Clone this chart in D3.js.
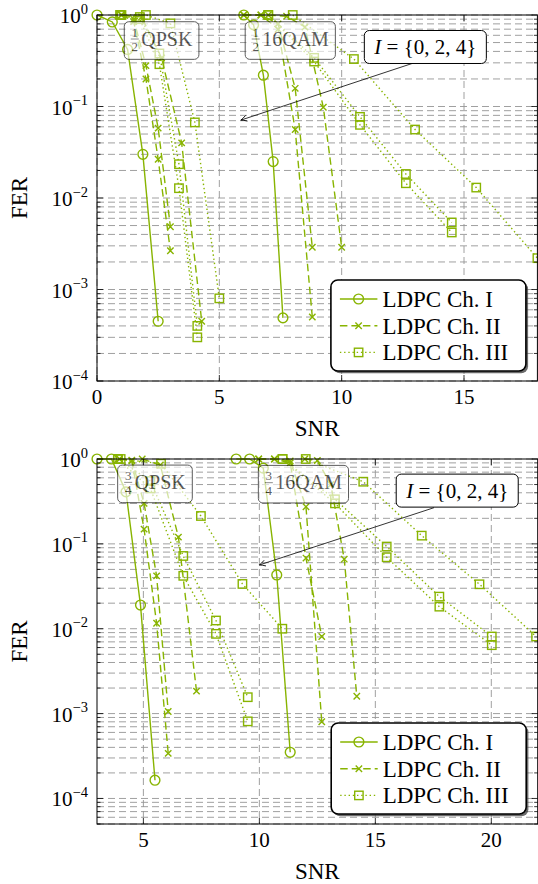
<!DOCTYPE html>
<html>
<head>
<meta charset="utf-8">
<script src="https://cdn.jsdelivr.net/npm/d3@7"></script>
<style>
  body { margin: 0; background: #fff; }
  svg { display: block; font-family: "Liberation Serif", "Times New Roman", serif; }
</style>
</head>
<body>
<script>
// ---- Frame error rate curves, code rate 1/2 (upper panel) ----
// each curve: [SNR, FER] pairs
const halfQpskCh1  = [[0, 1], [0.625, 0.84], [1.25, 0.42], [1.875, 0.03], [2.5, 4.5e-4]];
const halfQpskCh2a = [[1.0, 1], [1.5, 0.9], [2.0, 0.28], [2.5, 0.058], [3.0, 4.85e-3]];
const halfQpskCh2b = [[1.0, 1], [1.5, 0.85], [2.0, 0.2], [2.5, 0.0265], [3.0, 2.65e-3]];
const halfQpskCh2c = [[1.0, 1], [1.82, 0.95], [2.64, 0.34], [3.46, 0.04], [4.28, 4.5e-4]];
const halfQpskCh3a = [[0.95, 1], [1.75, 0.95], [2.55, 0.38], [3.35, 0.0234], [4.1, 4.0e-4]];
const halfQpskCh3b = [[0.95, 1], [1.75, 0.9], [2.55, 0.29], [3.35, 0.0128], [4.1, 3.0e-4]];
const halfQpskCh3c = [[1.0, 1], [2.0, 1], [3.0, 0.81], [4.0, 0.067], [5.0, 8.0e-4]];

const halfQamCh1  = [[6.0, 1], [6.4, 0.78], [6.8, 0.22], [7.2, 0.025], [7.6, 4.9e-4]];
const halfQamCh2a = [[6.0, 1], [6.7, 1], [7.4, 0.8], [8.1, 0.158], [8.8, 2.9e-3]];
const halfQamCh2b = [[6.0, 1], [6.7, 1], [7.4, 0.7], [8.1, 0.056], [8.8, 5.0e-4]];
const halfQamCh2c = [[7.0, 1], [7.75, 0.97], [8.5, 0.74], [9.25, 0.098], [10.0, 2.9e-3]];
const halfQamCh3a = [[7.0, 1], [8.875, 0.34], [10.75, 0.077], [12.625, 0.0183], [14.5, 5.4e-3]];
const halfQamCh3b = [[7.0, 1], [8.875, 0.31], [10.75, 0.063], [12.625, 0.0145], [14.5, 4.2e-3]];
const halfQamCh3c = [[8.0, 1], [10.5, 0.33], [13.0, 0.056], [15.5, 0.013], [18.0, 2.2e-3]];

// ---- Frame error rate curves, code rate 3/4 (lower panel) ----
const tqQpskCh1  = [[3.0, 1], [3.625, 1], [4.25, 0.41], [4.875, 0.019], [5.5, 1.64e-4]];
const tqQpskCh2a = [[3.97, 1], [4.5, 0.97], [5.03, 0.30], [5.57, 0.042], [6.07, 1.06e-3]];
const tqQpskCh2b = [[3.97, 1], [4.5, 0.95], [5.03, 0.149], [5.57, 0.0116], [6.07, 3.4e-4]];
const tqQpskCh2c = [[4.95, 1], [5.73, 0.85], [6.51, 0.12], [7.29, 1.84e-3]];
const tqQpskCh3a = [[3.9, 1], [5.3, 0.55], [6.72, 0.072], [8.13, 0.0125], [9.5, 1.56e-3]];
const tqQpskCh3b = [[3.9, 1], [5.3, 0.45], [6.72, 0.042], [8.13, 0.0087], [9.5, 8.1e-4]];
const tqQpskCh3c = [[4.02, 1], [5.76, 0.88], [7.48, 0.213], [9.27, 0.0337], [10.99, 0.01]];

const tqQamCh1  = [[9.0, 1], [9.58, 1], [10.17, 0.78], [10.75, 0.043], [11.33, 3.5e-4]];
const tqQamCh2a = [[9.97, 1], [10.65, 1], [11.33, 0.95], [12.01, 0.274], [12.69, 8.0e-4]];
const tqQamCh2b = [[9.97, 1], [10.65, 1], [11.33, 0.9], [12.01, 0.068], [12.69, 8.1e-3]];
const tqQamCh2c = [[11.96, 1], [12.5, 0.96], [13.08, 0.5], [13.66, 0.066], [14.2, 1.6e-3]];
const tqQamCh3a = [[11.0, 1], [13.26, 0.335], [15.49, 0.093], [17.76, 0.0239], [20.02, 8.1e-3]];
const tqQamCh3b = [[11.0, 1], [13.26, 0.3], [15.49, 0.0695], [17.76, 0.0182], [20.02, 6.4e-3]];
const tqQamCh3c = [[12.0, 1], [14.48, 0.54], [17.0, 0.125], [19.49, 0.0334], [21.93, 8.1e-3]];

// ---- axes, labels, legend ----
const xTicksTop = [0, 5, 10, 15];
const xTicksBottom = [5, 10, 15, 20];
const yExponents = [0, -1, -2, -3, -4];
const legendLabels = ["LDPC Ch. I", "LDPC Ch. II", "LDPC Ch. III"];
const rateLabelsTop = [["1", "2", "QPSK"], ["1", "2", "16QAM"]];
const rateLabelsBottom = [["3", "4", "QPSK"], ["3", "4", "16QAM"]];
const indexSetText = ["I", " = {0, 2, 4}"];

// channel index: 0 = Ch. I, 1 = Ch. II, 2 = Ch. III
const curvesTop = [
  [halfQpskCh1, 0], [halfQpskCh2a, 1], [halfQpskCh2b, 1], [halfQpskCh2c, 1],
  [halfQpskCh3a, 2], [halfQpskCh3b, 2], [halfQpskCh3c, 2],
  [halfQamCh1, 0], [halfQamCh2a, 1], [halfQamCh2b, 1], [halfQamCh2c, 1],
  [halfQamCh3a, 2], [halfQamCh3b, 2], [halfQamCh3c, 2]
];
const curvesBottom = [
  [tqQpskCh1, 0], [tqQpskCh2a, 1], [tqQpskCh2b, 1], [tqQpskCh2c, 1],
  [tqQpskCh3a, 2], [tqQpskCh3b, 2], [tqQpskCh3c, 2],
  [tqQamCh1, 0], [tqQamCh2a, 1], [tqQamCh2b, 1], [tqQamCh2c, 1],
  [tqQamCh3a, 2], [tqQamCh3b, 2], [tqQamCh3c, 2]
];

const GREEN = "#88b400";
const DASH = [null, "7.5,4", "1.4,2.8"];
const MARK = ["circle", "cross", "square"];

const svg = d3.select("body").append("svg").attr("width", 538).attr("height", 884);

svg.append("defs").append("marker")
  .attr("id", "arrowhead")
  .attr("viewBox", "-8 -5 10 10")
  .attr("refX", 0).attr("refY", 0)
  .attr("markerWidth", 10).attr("markerHeight", 10)
  .attr("markerUnits", "userSpaceOnUse")
  .attr("orient", "auto")
  .append("path")
  .attr("d", "M-6,-3 Q-2.5,-0.8 0,0 Q-2.5,0.8 -6,3")
  .attr("fill", "none").attr("stroke", "#000").attr("stroke-width", 0.8);

function drawMarker(g, type, cx, cy, color) {
  if (type === "circle") {
    g.append("circle").attr("cx", cx).attr("cy", cy).attr("r", 4.9)
      .attr("fill", "none").attr("stroke", color).attr("stroke-width", 1.4);
  } else if (type === "square") {
    g.append("rect").attr("x", cx - 4.2).attr("y", cy - 4.2).attr("width", 8.4).attr("height", 8.4)
      .attr("fill", "none").attr("stroke", color).attr("stroke-width", 1.4);
  } else {
    g.append("path").attr("d", `M${cx - 3.2},${cy - 3.2}L${cx + 3.2},${cy + 3.2}M${cx - 3.2},${cy + 3.2}L${cx + 3.2},${cy - 3.2}`)
      .attr("stroke", color).attr("stroke-width", 1.4).attr("fill", "none");
  }
}

function drawPanel(cfg) {
  const x = d3.scaleLinear().domain(cfg.xDomain).range([cfg.left, cfg.right]);
  const y = d3.scaleLog().domain(cfg.yDomain).range([cfg.bottom, cfg.top]);
  const g = svg.append("g");

  const allY = y.ticks().filter(v => v >= cfg.yDomain[0] * 0.999 && v <= cfg.yDomain[1] * 1.001);
  const isMajor = v => Math.abs(Math.log10(v) - Math.round(Math.log10(v))) < 1e-6;

  // dashed grid
  const grid = g.append("g").attr("stroke", "#959595").attr("stroke-width", 0.9)
    .attr("stroke-dasharray", "7,4").attr("fill", "none");
  allY.forEach(v => {
    grid.append("line").attr("x1", cfg.left).attr("x2", cfg.right)
      .attr("y1", y(v)).attr("y2", y(v));
  });
  cfg.xTicks.forEach(v => {
    grid.append("line").attr("x1", x(v)).attr("x2", x(v))
      .attr("y1", cfg.top).attr("y2", cfg.bottom);
  });

  // curves
  const line = d3.line().x(d => x(d[0])).y(d => y(d[1]));
  cfg.curves.forEach(([pts, ch]) => {
    g.append("path").datum(pts).attr("d", line)
      .attr("fill", "none").attr("stroke", GREEN).attr("stroke-width", 1.4)
      .attr("stroke-dasharray", DASH[ch]);
    const mg = g.append("g");
    pts.forEach(p => drawMarker(mg, MARK[ch], x(p[0]), y(p[1]), GREEN));
  });

  // frame and inward ticks
  g.append("rect").attr("x", cfg.left).attr("y", cfg.top)
    .attr("width", cfg.right - cfg.left).attr("height", cfg.bottom - cfg.top)
    .attr("fill", "none").attr("stroke", "#000").attr("stroke-width", 1);
  const ticks = g.append("g").attr("stroke", "#000").attr("stroke-width", 0.8);
  allY.forEach(v => {
    const len = isMajor(v) ? 6 : 3.5;
    ticks.append("line").attr("x1", cfg.left).attr("x2", cfg.left + len).attr("y1", y(v)).attr("y2", y(v));
    ticks.append("line").attr("x1", cfg.right).attr("x2", cfg.right - len).attr("y1", y(v)).attr("y2", y(v));
  });
  cfg.xTicks.forEach(v => {
    ticks.append("line").attr("x1", x(v)).attr("x2", x(v)).attr("y1", cfg.bottom).attr("y2", cfg.bottom - 6);
    ticks.append("line").attr("x1", x(v)).attr("x2", x(v)).attr("y1", cfg.top).attr("y2", cfg.top + 6);
  });

  // x tick labels
  cfg.xTicks.forEach(v => {
    g.append("text").attr("x", x(v)).attr("y", cfg.bottom + 23)
      .attr("text-anchor", "middle").attr("font-size", 21).text(v);
  });
  // y tick labels 10^k
  yExponents.forEach(k => {
    const t = g.append("text").attr("x", cfg.left - 9).attr("y", y(Math.pow(10, k)) + 8)
      .attr("text-anchor", "end").attr("font-size", 21);
    t.append("tspan").text("10");
    t.append("tspan").attr("font-size", 14.5).attr("dy", -9.5)
      .text(k === 0 ? "0" : "\u2212" + Math.abs(k));
  });

  // axis titles
  g.append("text").attr("x", (cfg.left + cfg.right) / 2).attr("y", cfg.bottom + 55)
    .attr("text-anchor", "middle").attr("font-size", 23).text("SNR");
  g.append("text").attr("transform", `translate(27,${(cfg.top + cfg.bottom) / 2}) rotate(-90)`)
    .attr("text-anchor", "middle").attr("font-size", 23).text("FER");

  // modulation labels (translucent boxes)
  cfg.rateLabels.forEach((lab, i) => {
    const [cxv, cyv] = cfg.rateLabelPos[i];
    const cx = x(cxv), cy = y(cyv);
    const lg = g.append("g").attr("opacity", 0.64);
    const rect = lg.append("rect").attr("fill", "#fff").attr("stroke", "#000").attr("stroke-width", 1)
      .attr("rx", 4.5).attr("ry", 4.5);
    const txt = lg.append("text").attr("font-size", 20).attr("y", cy + 5.2).text(lab[2]);
    const tw = txt.node().getComputedTextLength();
    const fracW = 8, gap = 2.5, pad = 6.5;
    const w = pad + fracW + gap + tw + pad, h = 37.6;
    const x0 = cx - w / 2;
    rect.attr("x", x0).attr("y", cy - h / 2).attr("width", w).attr("height", h);
    const fx = x0 + pad + fracW / 2;
    lg.append("text").attr("x", fx).attr("y", cy - 4).attr("text-anchor", "middle").attr("font-size", 13).text(lab[0]);
    lg.append("line").attr("x1", fx - 4).attr("x2", fx + 4).attr("y1", cy - 1.5).attr("y2", cy - 1.5)
      .attr("stroke", "#000").attr("stroke-width", 0.7);
    lg.append("text").attr("x", fx).attr("y", cy + 10.5).attr("text-anchor", "middle").attr("font-size", 13).text(lab[1]);
    txt.attr("x", x0 + pad + fracW + gap);
  });

  // index-set annotation with arrow
  const ann = cfg.annotation;
  g.append("line")
    .attr("x1", x(ann.from[0])).attr("y1", y(ann.from[1]))
    .attr("x2", x(ann.to[0])).attr("y2", y(ann.to[1]))
    .attr("stroke", "#000").attr("stroke-width", 0.8)
    .attr("marker-end", "url(#arrowhead)");
  const acx = x(ann.box[0]), acy = y(ann.box[1]);
  const ag = g.append("g");
  const arect = ag.append("rect").attr("fill", "#fff").attr("stroke", "#000").attr("stroke-width", 1)
    .attr("rx", 5).attr("ry", 5);
  const at = ag.append("text").attr("font-size", 21).attr("y", acy + 7).attr("text-anchor", "middle").attr("x", acx);
  at.append("tspan").attr("font-style", "italic").text(indexSetText[0]);
  at.append("tspan").text(indexSetText[1]);
  const aw = at.node().getComputedTextLength() + 20, ah = 33;
  arect.attr("x", acx - aw / 2).attr("y", acy - ah / 2).attr("width", aw).attr("height", ah);

  // legend
  const lw = 195, lh = 91;
  const lx = cfg.right - 11.5 - lw, ly = cfg.bottom - 10 - lh;
  const leg = g.append("g");
  leg.append("rect").attr("x", lx + 2.2).attr("y", ly + 2.2).attr("width", lw).attr("height", lh)
    .attr("rx", 7).attr("ry", 7).attr("fill", "#3a3a3a").attr("opacity", 0.75);
  leg.append("rect").attr("x", lx).attr("y", ly).attr("width", lw).attr("height", lh)
    .attr("rx", 7).attr("ry", 7).attr("fill", "#fff").attr("stroke", "#000").attr("stroke-width", 1.6);
  legendLabels.forEach((lab, i) => {
    const ry = ly + 19 + i * 26.7;
    leg.append("line").attr("x1", lx + 9).attr("x2", lx + 46.5).attr("y1", ry).attr("y2", ry)
      .attr("stroke", GREEN).attr("stroke-width", 1.4).attr("stroke-dasharray", DASH[i]);
    drawMarker(leg, MARK[i], lx + 27.7, ry, GREEN);
    leg.append("text").attr("x", lx + 51.5).attr("y", ry + 8).attr("font-size", 23).text(lab);
  });
}

drawPanel({
  left: 97, right: 537.4, top: 15, bottom: 381,
  xDomain: [0, 18], yDomain: [1e-4, 1],
  xTicks: xTicksTop,
  curves: curvesTop,
  rateLabels: rateLabelsTop,
  rateLabelPos: [[2.64, 0.526], [7.9, 0.526]],
  annotation: { box: [13.42, 0.447], from: [12.96, 0.30], to: [5.88, 0.071] }
});

drawPanel({
  left: 97, right: 537.7, top: 459, bottom: 824,
  xDomain: [3, 22], yDomain: [5e-5, 1],
  xTicks: xTicksBottom,
  curves: curvesBottom,
  rateLabels: rateLabelsBottom,
  rateLabelPos: [[5.5, 0.509], [11.9, 0.505]],
  annotation: { box: [18.53, 0.424], from: [17.53, 0.267], to: [10.0, 0.0564] }
});
</script>
</body>
</html>
